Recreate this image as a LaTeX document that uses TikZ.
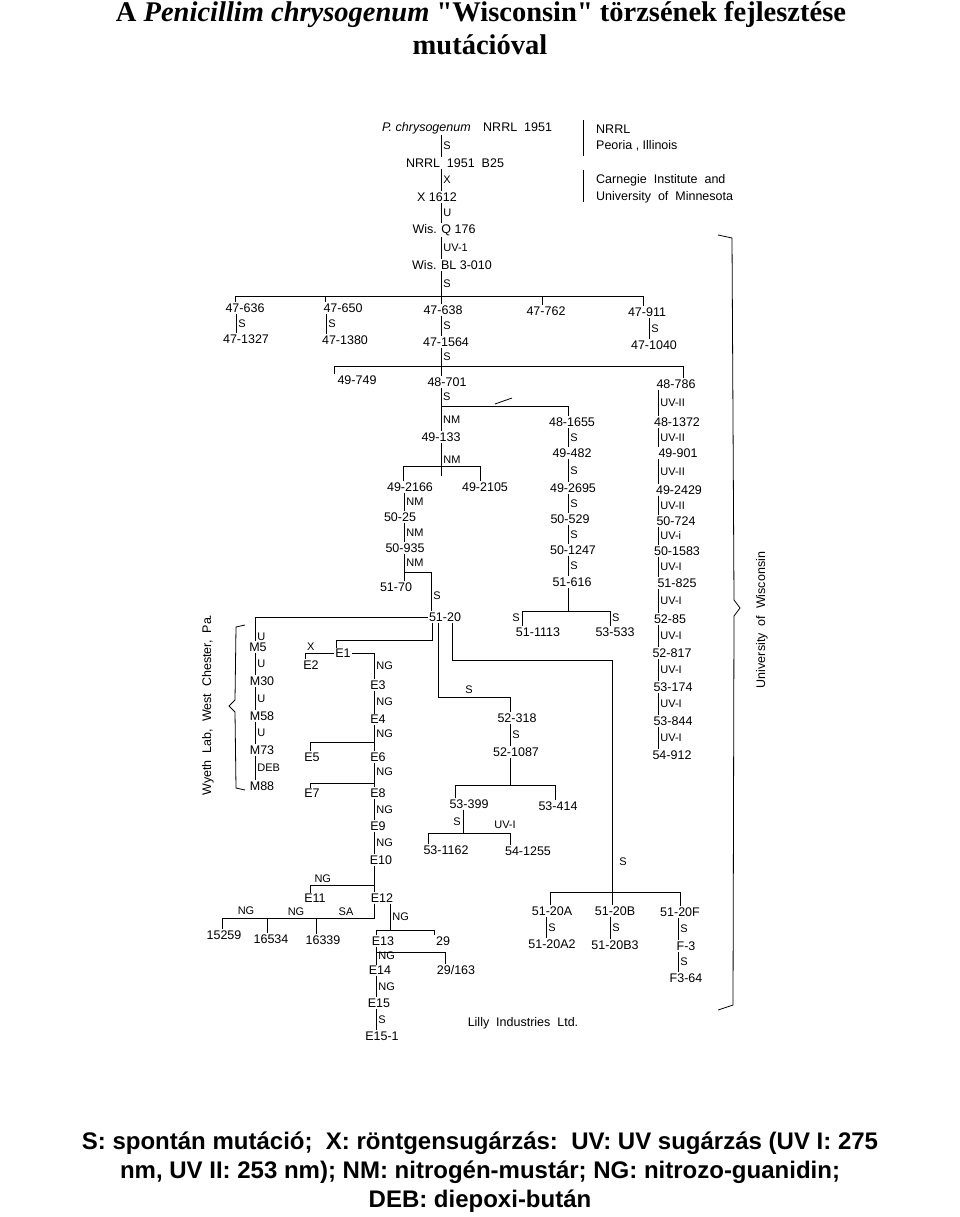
\documentclass[tikz,border=0pt]{standalone}
\usepackage{fontspec}
\setmainfont{Liberation Serif}
\setsansfont{Liberation Sans}
\newfontfamily\titlefont{Liberation Serif}
\usepackage{tikz}

\begin{document}
\begin{tikzpicture}[x=1pt,y=-1pt]
            \tikzstyle{strain}=[inner sep=1pt,font=\sffamily\fontsize{12.5}{12.5}\selectfont]
            \tikzstyle{lab}=[inner sep=2pt,font=\sffamily\fontsize{11}{11}\selectfont]
            \tikzstyle{lnk}=[line width=0.8pt]
            \tikzstyle{legend}=[font=\sffamily\bfseries\fontsize{24}{24}\selectfont]
            \useasboundingbox (0,0) rectangle (960,1217);
            % title and legend
            \node[font=\titlefont\bfseries\fontsize{28.5}{28.5}\selectfont] (title1) at (481,15) {A \textit{Penicillim chrysogenum} "Wisconsin" törzsének fejlesztése};
            \node[font=\titlefont\bfseries\fontsize{28.5}{28.5}\selectfont] (title2) at (480,45) {mutációval};
            \node[legend] (leg1) at (480,1143) {S: spontán mutáció;\ \ X: röntgensugárzás:\ \ UV: UV sugárzás (UV I: 275};
            \node[legend] (leg2) at (480,1172) {nm, UV II: 253 nm); NM: nitrogén-mustár; NG: nitrozo-guanidin;};
            \node[legend] (leg3) at (480,1201) {DEB: diepoxi-bután};
            % origin
            \node[strain] (p0) at (467,128) {\textit{P. chrysogenum}\quad NRRL\ \ 1951};
            \node[strain] (p1) at (455,163) {NRRL\ \ 1951\ \ B25};
            \node[strain] (p2) at (437,197) {X 1612};
            \node[strain] (p3) at (444,230) {Wis. Q 176};
            \node[strain] (p4) at (452,265) {Wis. BL 3-010};
            \draw[lnk] (p0.south -| 441,0) -- (p1.north -| 441,0) node[lab,midway,right]{S};
            \draw[lnk] (p1.south -| 441,0) -- (p2.north -| 441,0) node[lab,midway,right]{X};
            \draw[lnk] (p2.south -| 441,0) -- (p3.north -| 441,0) node[lab,midway,right]{U};
            \draw[lnk] (p3.south -| 441,0) -- (p4.north -| 441,0) node[lab,midway,right]{UV-1};
            \node[strain,anchor=west] (n1) at (595,129) {NRRL};
            \node[strain,anchor=west] (n2) at (595,146) {Peoria , Illinois};
            \node[strain,anchor=west] (n3) at (595,180) {Carnegie\ \ Institute\ \ and};
            \node[strain,anchor=west] (n4) at (595,197) {University\ \ of\ \ Minnesota};
            \draw[lnk] (583,120) -- (583,156);
            \draw[lnk] (583,170) -- (583,202);
            % 47 series
            \node[strain] (a1) at (245,308) {47-636};
            \node[strain] (a2) at (343,308) {47-650};
            \node[strain] (a3) at (443,310) {47-638};
            \node[strain] (a4) at (546,311) {47-762};
            \node[strain] (a5) at (647,312) {47-911};
            \draw[lnk] (p4.south -| 441,0) -- (441,296) node[lab,midway,right]{S};
            \draw[lnk] (235,296) -- (643,296);
            \draw[lnk] (235,296) -- (a1.north -| 235,0) (325,296) -- (a2.north -| 325,0)
                (441,296) -- (a3.north -| 441,0) (542,296) -- (a4.north -| 542,0) (643,296) -- (a5.north -| 643,0);
            \node[strain] (b1) at (246,339) {47-1327};
            \node[strain] (b2) at (345,340) {47-1380};
            \node[strain] (b3) at (446,342) {47-1564};
            \node[strain] (b5) at (654,345) {47-1040};
            \draw[lnk] (a1.south -| 236,0) -- (b1.north -| 236,0) node[lab,midway,right]{S};
            \draw[lnk] (a2.south -| 326,0) -- (b2.north -| 326,0) node[lab,midway,right]{S};
            \draw[lnk] (a3.south -| 441,0) -- (b3.north -| 441,0) node[lab,midway,right]{S};
            \draw[lnk] (a5.south -| 649,0) -- (b5.north -| 649,0) node[lab,midway,right]{S};
            % 48/49 series
            \node[strain] (c1) at (357,380) {49-749};
            \node[strain] (c2) at (447,382) {48-701};
            \node[strain] (c3) at (676,384) {48-786};
            \draw[lnk] (b3.south -| 441,0) -- (441,366) node[lab,midway,right]{S};
            \draw[lnk] (c1.north -| 334,0) |- (683,366) -- (c3.north -| 683,0);
            \draw[lnk] (441,366) -- (c2.north -| 441,0);
            \node[strain] (d1) at (441,437) {49-133};
            \node[strain] (e1) at (572,422) {48-1655};
            \draw[lnk] (c2.south -| 441,0) -- (d1.north -| 441,0);
            \node[lab,right] (sl1) at (441,397) {S};
            \node[lab,right] (sl2) at (441,420) {NM};
            \draw[lnk] (441,406) -| (e1.north -| 568,0);
            \draw[lnk] (495,404) -- (512,398);
            \node[strain] (d2) at (410,487) {49-2166};
            \node[strain] (d3) at (485,487) {49-2105};
            \draw[lnk] (d1.south -| 441,0) -- (441,476) node[lab,midway,right]{NM};
            \draw[lnk] (d2.north -| 403,0) |- (480,466) -- (d3.north -| 480,0);
            \node[strain] (d4) at (400,517) {50-25};
            \node[strain] (d5) at (405,548) {50-935};
            \node[strain] (d6) at (396,587) {51-70};
            \node[strain] (f0) at (445,617) {51-20};
            \draw[lnk] (d2.south -| 404,0) -- (d4.north -| 404,0) node[lab,midway,right]{NM};
            \draw[lnk] (d4.south -| 404,0) -- (d5.north -| 404,0) node[lab,midway,right]{NM};
            \draw[lnk] (d5.south -| 404,0) -- (404,572) node[lab,midway,right]{NM};
            \draw[lnk] (d6.north -| 404,0) |- (431,572) -- (f0.north -| 431,0) node[lab,pos=0.6,right]{S};
            % 48-1655 chain
            \node[strain] (e2) at (572,453) {49-482};
            \node[strain] (e3) at (573,488) {49-2695};
            \node[strain] (e4) at (570,519) {50-529};
            \node[strain] (e5) at (573,550) {50-1247};
            \node[strain] (e6) at (572,582) {51-616};
            \node[strain] (e7) at (538,632) {51-1113};
            \node[strain] (e8) at (615,632) {53-533};
            \draw[lnk] (e1.south -| 568,0) -- (e2.north -| 568,0) node[lab,midway,right]{S};
            \draw[lnk] (e2.south -| 568,0) -- (e3.north -| 568,0) node[lab,midway,right]{S};
            \draw[lnk] (e3.south -| 568,0) -- (e4.north -| 568,0) node[lab,midway,right]{S};
            \draw[lnk] (e4.south -| 568,0) -- (e5.north -| 568,0) node[lab,midway,right]{S};
            \draw[lnk] (e5.south -| 568,0) -- (e6.north -| 568,0) node[lab,midway,right]{S};
            \draw[lnk] (e6.south -| 568,0) -- (568,611);
            \draw[lnk] (e7.north -| 522,0) |- (610,611) -- (e8.north -| 610,0);
            \node[lab,left] (sl3) at (522,618) {S};
            \node[lab,right] (sl4) at (610,618) {S};
            % 48-786 chain
            \node[strain] (g1) at (677,422) {48-1372};
            \node[strain] (g2) at (678,453) {49-901};
            \node[strain] (g3) at (679,490) {49-2429};
            \node[strain] (g4) at (676,521) {50-724};
            \node[strain] (g5) at (677,551) {50-1583};
            \node[strain] (g6) at (677,583) {51-825};
            \node[strain] (g7) at (670,619) {52-85};
            \node[strain] (g8) at (672,653) {52-817};
            \node[strain] (g9) at (673,687) {53-174};
            \node[strain] (g10) at (673,721) {53-844};
            \node[strain] (g11) at (672,755) {54-912};
            \draw[lnk] (c3.south -| 658,0) -- (g1.north -| 658,0) node[lab,midway,right]{UV-II};
            \draw[lnk] (g1.south -| 658,0) -- (g2.north -| 658,0) node[lab,midway,right]{UV-II};
            \draw[lnk] (g2.south -| 658,0) -- (g3.north -| 658,0) node[lab,midway,right]{UV-II};
            \draw[lnk] (g3.south -| 658,0) -- (g4.north -| 658,0) node[lab,midway,right]{UV-II};
            \draw[lnk] (g4.south -| 658,0) -- (g5.north -| 658,0) node[lab,midway,right]{UV-i};
            \draw[lnk] (g5.south -| 658,0) -- (g6.north -| 658,0) node[lab,midway,right]{UV-I};
            \draw[lnk] (g6.south -| 658,0) -- (g7.north -| 658,0) node[lab,midway,right]{UV-I};
            \draw[lnk] (g7.south -| 658,0) -- (g8.north -| 658,0) node[lab,midway,right]{UV-I};
            \draw[lnk] (g8.south -| 658,0) -- (g9.north -| 658,0) node[lab,midway,right]{UV-I};
            \draw[lnk] (g9.south -| 658,0) -- (g10.north -| 658,0) node[lab,midway,right]{UV-I};
            \draw[lnk] (g10.south -| 658,0) -- (g11.north -| 658,0) node[lab,midway,right]{UV-I};
            \draw[lnk] (718,235) -- (732,238) -- (734,600) -- (740,608) -- (734,616) -- (733,1005) -- (718,1010);
            \node[strain,rotate=90] (uw) at (762,620) {University\ \ of\ \ Wisconsin};
            % Wyeth
            \node[strain] (m1) at (258,647) {M5};
            \node[strain] (m2) at (262,681) {M30};
            \node[strain] (m3) at (262,716) {M58};
            \node[strain] (m4) at (262,750) {M73};
            \node[strain] (m5) at (262,786) {M88};
            \draw[lnk] (f0.west) -| (m1.north -| 255,0) node[lab,pos=0.9,right]{U};
            \draw[lnk] (m1.south -| 255,0) -- (m2.north -| 255,0) node[lab,midway,right]{U};
            \draw[lnk] (m2.south -| 255,0) -- (m3.north -| 255,0) node[lab,midway,right]{U};
            \draw[lnk] (m3.south -| 255,0) -- (m4.north -| 255,0) node[lab,midway,right]{U};
            \draw[lnk] (m4.south -| 255,0) -- (m5.north -| 255,0) node[lab,midway,right]{DEB};
            \draw[lnk] (245,625) -- (236,627) -- (235,700) -- (229,706) -- (235,712) -- (236,788) -- (245,790);
            \node[strain,rotate=90] (wy) at (208,705) {Wyeth\ \ Lab,\ \ West\ \ Chester,\ \ Pa.};
            % E series
            \node[strain] (x1) at (343,653) {E1};
            \node[strain] (x2) at (311,665) {E2};
            \node[strain] (x3) at (378,685) {E3};
            \node[strain] (x4) at (378,719) {E4};
            \node[strain] (x5) at (312,757) {E5};
            \node[strain] (x6) at (378,757) {E6};
            \node[strain] (x7) at (312,793) {E7};
            \node[strain] (x8) at (378,793) {E8};
            \node[strain] (x9) at (378,826) {E9};
            \node[strain] (x10) at (381,860) {E10};
            \node[strain] (x11) at (315,898) {E11};
            \node[strain] (x12) at (382,898) {E12};
            \draw[lnk] (f0.south -| 432,0) |- (336,640) -- (x1.north -| 336,0);
            \draw[lnk] (x1.west) -| (x2.north -| 305,0) node[lab,pos=0.4,above]{X};
            \draw[lnk] (x1.east) -| (x3.north -| 374,0) node[lab,pos=0.75,right]{NG};
            \draw[lnk] (x3.south -| 374,0) -- (x4.north -| 374,0) node[lab,midway,right]{NG};
            \draw[lnk] (x4.south -| 374,0) -- (x6.north -| 374,0) node[lab,pos=0.35,right]{NG};
            \draw[lnk] (374,742) -| (x5.north -| 310,0);
            \draw[lnk] (x6.south -| 374,0) -- (x8.north -| 374,0) node[lab,pos=0.35,right]{NG};
            \draw[lnk] (374,783) -| (x7.north -| 310,0);
            \draw[lnk] (x8.south -| 374,0) -- (x9.north -| 374,0) node[lab,midway,right]{NG};
            \draw[lnk] (x9.south -| 374,0) -- (x10.north -| 374,0) node[lab,midway,right]{NG};
            \draw[lnk] (x10.south -| 374,0) -- (374,885);
            \draw[lnk] (374,885) -| (x11.north -| 310,0) node[lab,pos=0.4,above]{NG};
            \draw[lnk] (374,885) -- (x12.north -| 374,0);
            \node[strain] (y1) at (224,935) {15259};
            \node[strain] (y2) at (271,939) {16534};
            \node[strain] (y3) at (323,940) {16339};
            \draw[lnk] (x12.south -| 374,0) |- (222,918) -- (y1.north -| 222,0);
            \draw[lnk] (267,918) -- (y2.north -| 267,0) (316,918) -- (y3.north -| 316,0);
            \node[lab] (sl5) at (246,911) {NG};
            \node[lab] (sl6) at (296,912) {NG};
            \node[lab] (sl7) at (346,912) {SA};
            \node[strain] (z1) at (383,941) {E13};
            \node[strain] (z2) at (443,941) {29};
            \node[strain] (z3) at (380,970) {E14};
            \node[strain] (z4) at (456,970) {29/163};
            \node[strain] (z5) at (379,1003) {E15};
            \node[strain] (z6) at (382,1036) {E15-1};
            \draw[lnk] (x12.south -| 390,0) -- (390,930) node[lab,midway,right]{NG};
            \draw[lnk] (z1.north -| 376,0) |- (434,930) -- (z2.north -| 434,0);
            \draw[lnk] (z1.south -| 376,0) -- (z3.north -| 376,0) node[lab,midway,right]{NG};
            \draw[lnk] (376,952) -| (z4.north -| 445,0);
            \draw[lnk] (z3.south -| 376,0) -- (z5.north -| 376,0) node[lab,midway,right]{NG};
            \draw[lnk] (z5.south -| 376,0) -- (z6.north -| 376,0) node[lab,midway,right]{S};
            \node[strain] (lilly) at (523,1023) {Lilly\ \ Industries\ \ Ltd.};
            % 52-318 branch
            \node[strain] (q1) at (517,718) {52-318};
            \node[strain] (q2) at (516,752) {52-1087};
            \node[strain] (q3) at (469,804) {53-399};
            \node[strain] (q4) at (558,806) {53-414};
            \node[strain] (q5) at (446,850) {53-1162};
            \node[strain] (q6) at (528,851) {54-1255};
            \draw[lnk] (f0.south -| 438,0) |- (510,697) -- (q1.north -| 510,0);
            \node[lab] (sl8) at (469,690) {S};
            \draw[lnk] (q1.south -| 510,0) -- (q2.north -| 510,0) node[lab,midway,right]{S};
            \draw[lnk] (q2.south -| 510,0) -- (510,785);
            \draw[lnk] (q3.north -| 455,0) |- (555,785) -- (q4.north -| 555,0);
            \draw[lnk] (q3.south -| 463,0) -- (463,833) node[lab,midway,left]{S};
            \draw[lnk] (q5.north -| 428,0) |- (510,833) -- (q6.north -| 510,0);
            \node[lab] (sl9) at (505,825) {UV-I};
            % 51-20 A/B/F
            \node[strain] (r1) at (552,911) {51-20A};
            \node[strain] (r2) at (615,911) {51-20B};
            \node[strain] (r3) at (680,912) {51-20F};
            \node[strain] (r4) at (552,944) {51-20A2};
            \node[strain] (r5) at (615,945) {51-20B3};
            \node[strain] (r6) at (686,946) {F-3};
            \node[strain] (r7) at (686,978) {F3-64};
            \draw[lnk] (f0.south -| 452,0) |- (612,660) -- (r2.north -| 612,0);
            \node[lab] (sl10) at (623,862) {S};
            \draw[lnk] (r1.north -| 550,0) |- (680,892) -- (r3.north -| 680,0);
            \draw[lnk] (r1.south -| 546,0) -- (r4.north -| 546,0) node[lab,midway,right]{S};
            \draw[lnk] (r2.south -| 610,0) -- (r5.north -| 610,0) node[lab,midway,right]{S};
            \draw[lnk] (r3.south -| 678,0) -- (r6.north -| 678,0) node[lab,midway,right]{S};
            \draw[lnk] (r6.south -| 678,0) -- (r7.north -| 678,0) node[lab,midway,right]{S};
        \end{tikzpicture}
\end{document}
